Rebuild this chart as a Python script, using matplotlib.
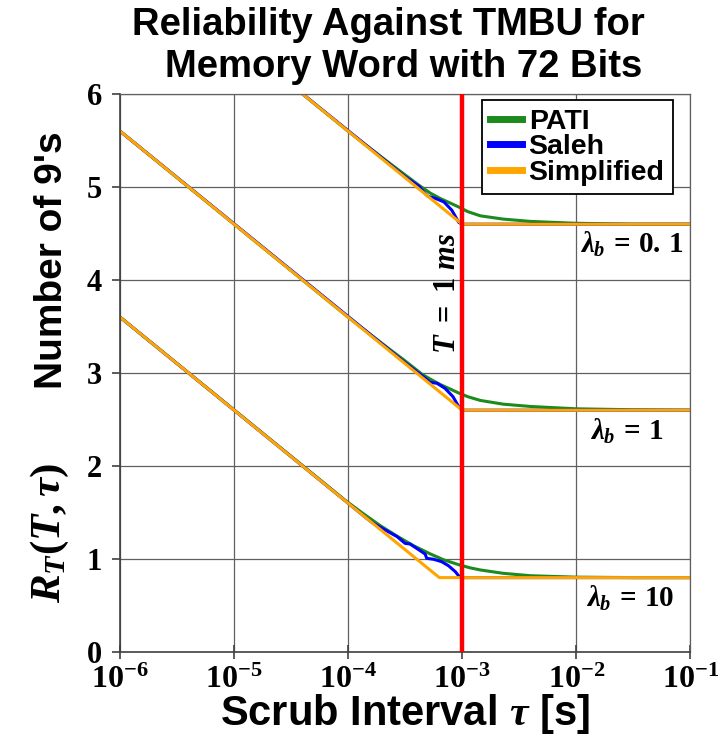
import numpy as np
import matplotlib
matplotlib.use("Agg")
import matplotlib.pyplot as plt
from matplotlib.ticker import LogLocator, NullLocator, FixedLocator

plt.rcParams['font.family'] = 'Liberation Serif'
plt.rcParams['font.weight'] = 'bold'
plt.rcParams['mathtext.fontset'] = 'custom'
plt.rcParams['mathtext.rm'] = 'Liberation Serif:bold'
plt.rcParams['mathtext.it'] = 'Liberation Serif:italic:bold'
plt.rcParams['mathtext.bf'] = 'Liberation Serif:bold'

# scrub interval exponents (log10 of tau in s) and number of 9's
# lambda_b = 0.1
pati_01_exp = [-4.6, -4.0, -3.8, -3.63, -3.5, -3.38, -3.28, -3.19, -3.1, -3.03, -2.95,
               -2.84, -2.64, -2.4, -2.0, -1.5, -1.0]
pati_01 = [6.2, 5.6, 5.41, 5.25, 5.13, 5.02, 4.935, 4.875, 4.825, 4.785, 4.735,
           4.69, 4.655, 4.63, 4.61, 4.60, 4.60]
saleh_01_exp = [-4.6, -3.5, -3.38, -3.34, -3.30, -3.24, -3.16, -3.09, -3.03, -3.0, -1.0]
saleh_01 = [6.2, 5.11, 5.01, 4.95, 4.90, 4.88, 4.84, 4.75, 4.62, 4.6, 4.6]
simp_01_exp = [-6.0, -3.0, -1.0]
simp_01 = [7.6, 4.6, 4.6]

# lambda_b = 1
pati_1_exp = [-6.0, -4.0, -3.8, -3.63, -3.5, -3.35, -3.28, -3.19, -3.1, -3.03, -2.95,
              -2.84, -2.64, -2.4, -2.0, -1.5, -1.0]
pati_1 = [5.6, 3.6, 3.41, 3.25, 3.13, 2.985, 2.935, 2.875, 2.825, 2.785, 2.745,
          2.705, 2.665, 2.64, 2.615, 2.605, 2.60]
saleh_1_exp = [-6.0, -3.5, -3.4, -3.34, -3.28, -3.22, -3.15, -3.08, -3.03, -3.0, -1.0]
saleh_1 = [5.6, 3.11, 3.015, 2.96, 2.90, 2.889, 2.835, 2.745, 2.638, 2.6, 2.6]
simp_1_exp = [-6.0, -3.0, -1.0]
simp_1 = [5.6, 2.6, 2.6]

# lambda_b = 10
pati_10_exp = [-6.0, -4.3, -4.03, -3.87, -3.72, -3.57, -3.43, -3.28, -3.16, -3.02, -2.93,
               -2.84, -2.64, -2.4, -2.0, -1.5, -1.0]
pati_10 = [3.6, 1.905, 1.635, 1.49, 1.36, 1.245, 1.145, 1.055, 0.99, 0.935, 0.905,
           0.882, 0.846, 0.82, 0.805, 0.80, 0.80]
saleh_10_exp = [-6.0, -4.03, -3.84, -3.78, -3.675, -3.57, -3.5, -3.456, -3.4, -3.325,
                -3.31, -3.25, -3.18, -3.12, -3.06, -3.02, -3.0, -1.0]
saleh_10 = [3.6, 1.63, 1.44, 1.384, 1.312, 1.24, 1.168, 1.161, 1.115, 1.054,
            1.007, 0.997, 0.971, 0.928, 0.864, 0.803, 0.8, 0.8]
simp_10_exp = [-6.0, -3.2, -1.0]
simp_10 = [3.6, 0.8, 0.8]

mission_time = 1e-3
lambda_labels = [r'$\lambda_b\,=\,0.\,1$', r'$\lambda_b\,=\,1$', r'$\lambda_b\,=\,10$']

green = '#1c8a1c'
blue = '#0000ff'
orange = '#ffa500'

fig = plt.figure(figsize=(7.28, 7.42), dpi=100)
ax = fig.add_axes([0.165, 0.1213, 0.783, 0.752])

groups = [(pati_01_exp, pati_01, saleh_01_exp, saleh_01, simp_01_exp, simp_01),
          (pati_1_exp, pati_1, saleh_1_exp, saleh_1, simp_1_exp, simp_1),
          (pati_10_exp, pati_10, saleh_10_exp, saleh_10, simp_10_exp, simp_10)]

for i, (pe, pv, se, sv, oe, ov) in enumerate(groups):
    ax.plot(10.0 ** np.array(pe), pv, color=green, lw=2.2, label='PATI' if i == 0 else None)
    ax.plot(10.0 ** np.array(se), sv, color=blue, lw=2.2, label='Saleh' if i == 0 else None)
    ax.plot(10.0 ** np.array(oe), ov, color=orange, lw=2.2, label='Simplified' if i == 0 else None)

ax.axvline(mission_time, color='#ff0000', lw=3.2, zorder=5)

ax.set_xscale('log')
ax.set_xlim(1e-6, 1e-1)
ax.set_ylim(0, 6)
ax.xaxis.set_major_locator(LogLocator(base=10, numticks=10))
ax.xaxis.set_minor_locator(NullLocator())
ax.yaxis.set_major_locator(FixedLocator([0, 1, 2, 3, 4, 5, 6]))
ax.grid(True, color='#606060', lw=0.9)
for s in ['top', 'right']:
    ax.spines[s].set_color('#606060')
    ax.spines[s].set_linewidth(0.9)
for s in ['left', 'bottom']:
    ax.spines[s].set_color('#404040')
    ax.spines[s].set_linewidth(1.2)
ax.tick_params(axis='y', direction='out', length=6, width=1.2, labelsize=22, pad=7, colors='#404040',
               labelcolor='black')
ax.tick_params(axis='x', direction='inout', length=10, width=1.2, labelsize=23, pad=5, colors='#404040',
               labelcolor='black')

sans = 'Liberation Sans'
ax.set_xlabel(r'Scrub Interval $\tau$ [s]', fontfamily=sans, fontweight='bold', fontsize=30, labelpad=-2)

# y label in two parts: serif math symbol and sans text
fig.text(50 / 728, 1 - 533 / 742, r'$R_T(T,\tau)$', rotation=90, ha='center', va='center', fontsize=31)
fig.text(52 / 728, 1 - 260 / 742, "Number of 9's", rotation=90, ha='center', va='center',
         fontfamily=sans, fontweight='bold', fontsize=28)

fig.text(388 / 728, 0.9528, 'Reliability Against TMBU for', ha='center', va='baseline',
         fontfamily=sans, fontweight='bold', fontsize=27.5)
fig.text(404 / 728, 0.8962, 'Memory Word with 72 Bits', ha='center', va='baseline',
         fontfamily=sans, fontweight='bold', fontsize=27.5)

label_pos = [(10 ** -1.51, 4.38), (10 ** -1.56, 2.37), (10 ** -1.53, 0.58)]
for (lx, ly), txt in zip(label_pos, lambda_labels):
    ax.text(lx, ly, txt, ha='center', va='center', fontsize=21)

ax.text(10 ** -3.13, 3.86, r'$T\ =\ 1\ ms$', rotation=90, ha='center', va='center', fontsize=22)

leg = ax.legend(loc='upper right', bbox_to_anchor=(0.97, 0.989), borderaxespad=0,
                fancybox=False, edgecolor='black', framealpha=1,
                prop={'family': sans, 'weight': 'bold', 'size': 20.5},
                handlelength=1.1, handletextpad=0.25, labelspacing=-0.02, borderpad=0.3)
leg.get_frame().set_linewidth(1.3)
for h in leg.get_lines():
    h.set_linewidth(5)

fig.savefig('out.png', dpi=100)
